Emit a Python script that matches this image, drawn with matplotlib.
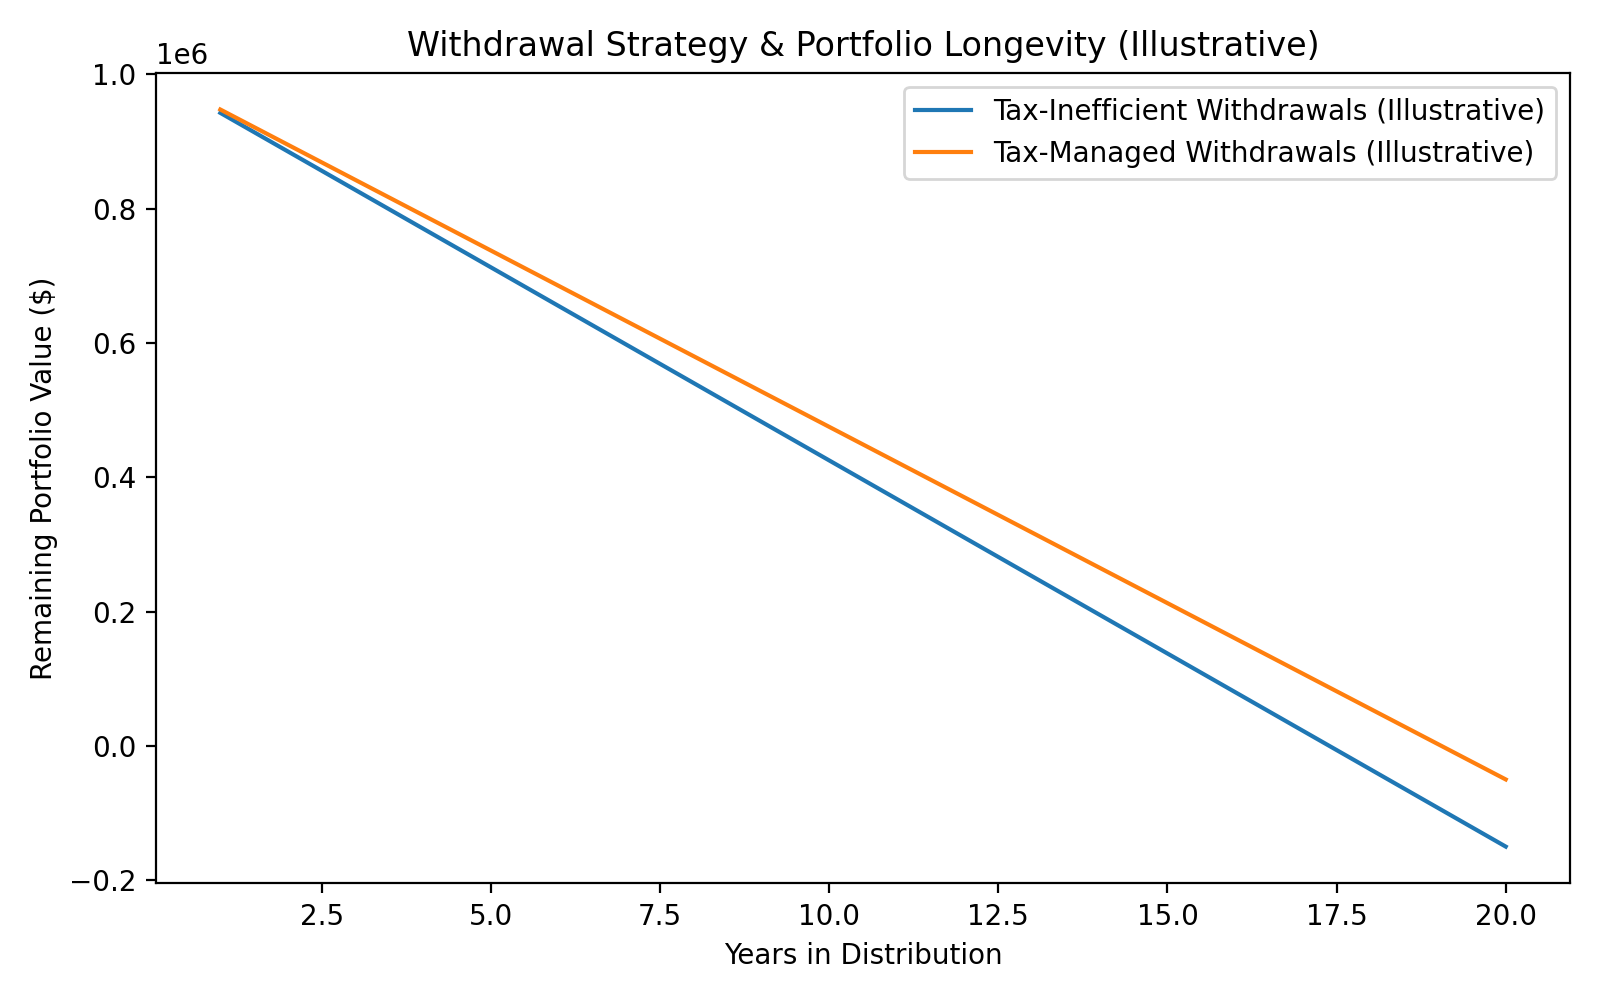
import matplotlib
matplotlib.use("Agg")
import matplotlib.pyplot as plt

# Years in distribution and remaining portfolio value
years = list(range(1, 21))
tax_inefficient = [942500, 885000, 827500, 770000, 712500, 655000, 597500, 540000,
                   482500, 425000, 367500, 310000, 252500, 195000, 137500, 80000,
                   22500, -35000, -92500, -150000]
tax_managed = [947500, 895000, 842500, 790000, 737500, 685000, 632500, 580000,
               527500, 475000, 422500, 370000, 317500, 265000, 212500, 160000,
               107500, 55000, 2500, -50000]

fig, ax = plt.subplots(figsize=(8, 5), dpi=200)
ax.plot(years, tax_inefficient, label="Tax-Inefficient Withdrawals (Illustrative)")
ax.plot(years, tax_managed, label="Tax-Managed Withdrawals (Illustrative)")
ax.set_title("Withdrawal Strategy & Portfolio Longevity (Illustrative)")
ax.set_xlabel("Years in Distribution")
ax.set_ylabel("Remaining Portfolio Value ($)")
ax.legend()
fig.tight_layout()
fig.savefig("out.png")
